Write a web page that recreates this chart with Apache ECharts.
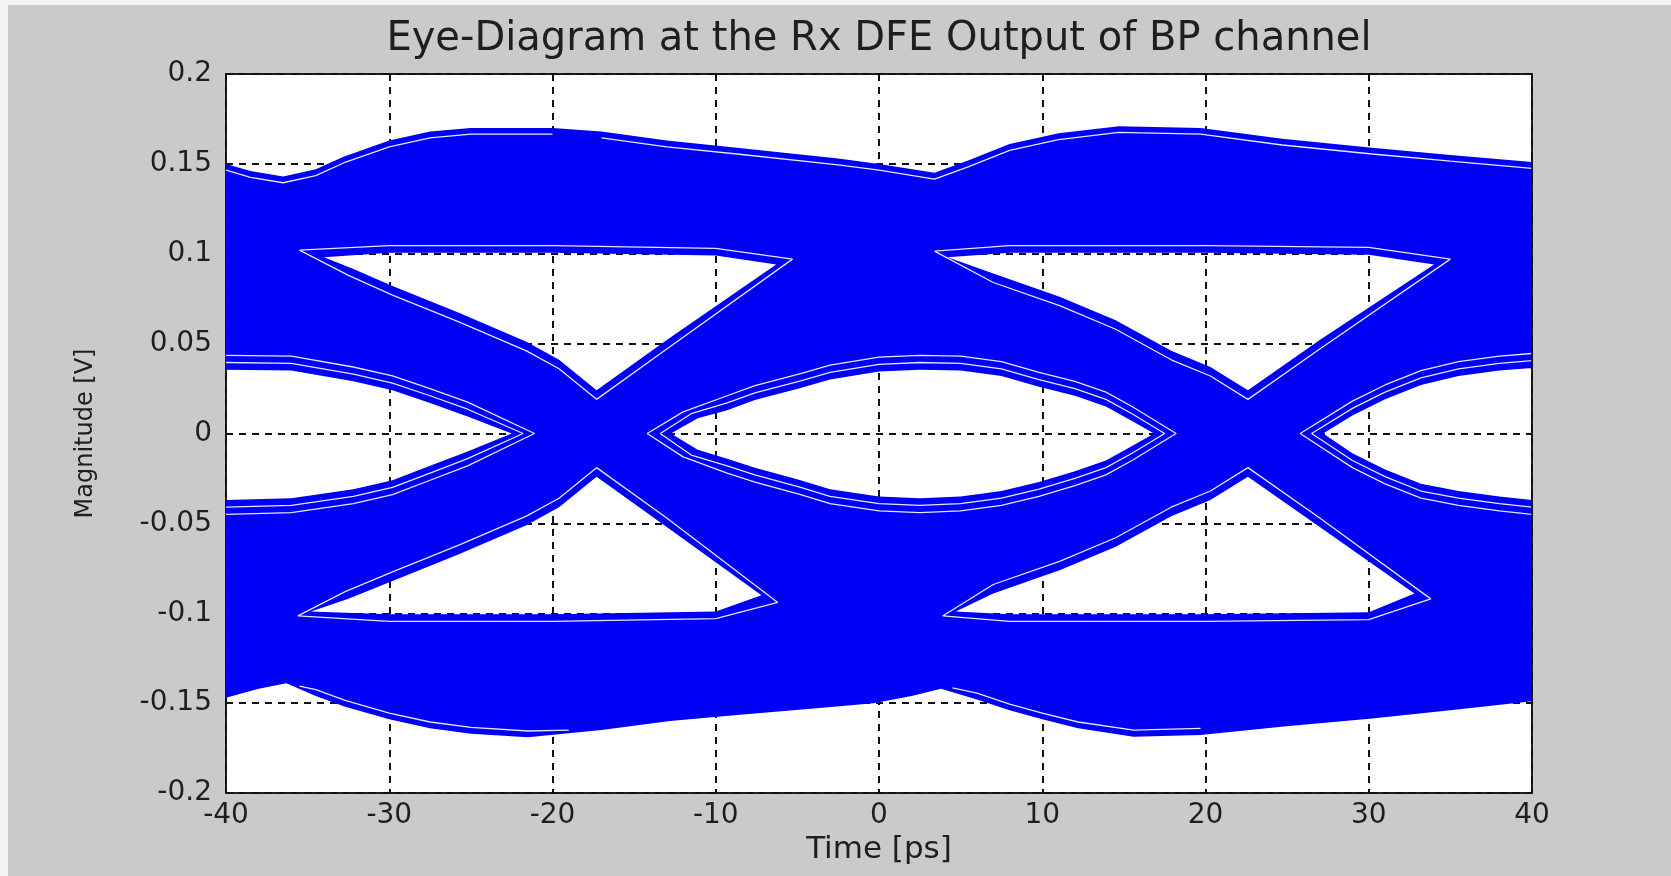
<!DOCTYPE html>
<html>
<head>
<meta charset="utf-8">
<title>Eye-Diagram</title>
<script src="https://cdn.jsdelivr.net/npm/echarts@6/dist/echarts.min.js"></script>
<style>
    html, body { margin: 0; padding: 0; background: #cacaca; }
    #main { width: 1671px; height: 876px; }
</style>
</head>
<body>
<div id="main"></div>
<script>
// axis ranges and ticks
const timeTicks = [-40, -30, -20, -10, 0, 10, 20, 30, 40];
const magTicks = [-0.2, -0.15, -0.1, -0.05, 0, 0.05, 0.1, 0.15, 0.2];

// outer envelope of all traces [t(ps), v(V)]
const envelopeTop = [
    [-40, 0.150], [-38.5, 0.146], [-36.5, 0.143], [-34.5, 0.147], [-32.8, 0.154],
    [-30, 0.163], [-27.5, 0.168], [-25, 0.170], [-20, 0.170], [-17, 0.168],
    [-13, 0.163], [-8.7, 0.159], [-2.5, 0.153], [0, 0.150], [3.4, 0.145],
    [5.5, 0.152], [8, 0.161], [11, 0.167], [14.7, 0.171], [19.7, 0.170],
    [24.7, 0.164], [30.2, 0.159], [35, 0.155], [40, 0.151]
];
const envelopeBottom = [
    [-40, -0.147], [-38, -0.142], [-36.3, -0.139], [-34.5, -0.146], [-32.7, -0.152],
    [-30, -0.159], [-27.5, -0.164], [-25, -0.167], [-21.5, -0.169], [-17, -0.165],
    [-12.8, -0.160], [-8.7, -0.1566], [-4, -0.153], [-0.35, -0.150], [2, -0.146],
    [3.8, -0.142], [6, -0.148], [8, -0.154], [10, -0.159], [12.2, -0.164],
    [15.6, -0.1687], [19.7, -0.1677], [24.8, -0.163], [30.2, -0.1585], [35, -0.154],
    [40, -0.149]
];

// eye openings (no trace passes inside)
const upperEye1 = [
    [-34, 0.098], [-30, 0.1005], [-20, 0.1005], [-10, 0.099], [-6.3, 0.094],
    [-13, 0.052], [-17.3, 0.024], [-19.6, 0.041], [-21.6, 0.051], [-25.7, 0.067],
    [-29.8, 0.082], [-32.3, 0.092]
];
const upperEye2 = [
    [4.2, 0.098], [8, 0.1005], [20, 0.1005], [30, 0.0995], [34.0, 0.094],
    [27, 0.052], [22.6, 0.024], [20.3, 0.037], [17.9, 0.046], [14.5, 0.063],
    [11.1, 0.076], [7, 0.089]
];
const lowerEye1 = [
    [-34.8, -0.099], [-30, -0.1005], [-20, -0.1005], [-10, -0.099], [-7.2, -0.090],
    [-13, -0.052], [-17.3, -0.024], [-19.6, -0.041], [-21.6, -0.051], [-25.7, -0.067],
    [-29.8, -0.082], [-32.5, -0.092]
];
const lowerEye2 = [
    [4.7, -0.099], [8, -0.1005], [20, -0.1005], [30, -0.0995], [32.8, -0.089],
    [27, -0.052], [22.6, -0.024], [20.3, -0.037], [17.9, -0.046], [14.5, -0.063],
    [11.1, -0.076], [7, -0.089]
];
const lensLeft = [
    [-40, 0.0355], [-36, 0.035], [-32.2, 0.029], [-29.8, 0.024], [-27.5, 0.017],
    [-25.2, 0.0095], [-22.5, 0], [-25.2, -0.010], [-27.5, -0.018], [-29.8, -0.026],
    [-32.2, -0.031], [-36, -0.036], [-40, -0.037]
];
const lensMid = [
    [-12.75, 0], [-11.1, 0.0085], [-9.3, 0.013], [-7.6, 0.0186], [-4.8, 0.0253],
    [-3, 0.030], [0, 0.0345], [2.5, 0.0355], [5, 0.035], [7.5, 0.032],
    [9.8, 0.026], [12, 0.021], [13.9, 0.015], [15.5, 0.007], [16.85, 0],
    [15.5, -0.007], [13.9, -0.015], [12, -0.021], [9.8, -0.027], [7.5, -0.032],
    [5, -0.035], [2.5, -0.036], [0, -0.035], [-3, -0.031], [-4.8, -0.026],
    [-7.6, -0.019], [-9.3, -0.014], [-11.1, -0.009]
];
const lensRight = [
    [27.2, 0], [29, 0.010], [31, 0.019], [33.2, 0.027], [35.5, 0.032],
    [38, 0.035], [40, 0.0365], [40, -0.037], [38, -0.035], [35.5, -0.032],
    [33.2, -0.028], [31, -0.020], [29, -0.011]
];

// thin gaps between trace bundles, seen as white lines inside the blue
const gapTopA = [
    [-40, 0.1465], [-38.5, 0.1425], [-36.5, 0.1395], [-34.5, 0.1435], [-32.8, 0.1505],
    [-30, 0.1595], [-27.5, 0.1645], [-25, 0.1665], [-20, 0.1665]
];
const gapTopB = [
    [-17, 0.1645], [-13, 0.1595], [-8.7, 0.1555], [-2.5, 0.1495], [0, 0.1465],
    [3.4, 0.1415], [5.5, 0.1485], [8, 0.1575], [11, 0.1635], [14.7, 0.1675],
    [19.7, 0.1665], [24.7, 0.1605], [30.2, 0.1555], [35, 0.1515], [40, 0.1475]
];
const gapBottomA = [
    [-35.5, -0.1405], [-34.5, -0.1425], [-32.7, -0.1485], [-30, -0.1555],
    [-27.5, -0.1605], [-25, -0.1635], [-21.5, -0.1655], [-19, -0.165]
];
const gapBottomB = [
    [4.5, -0.1415], [6, -0.1445], [8, -0.1505], [10, -0.1555], [12.2, -0.1605],
    [15.6, -0.165], [19.7, -0.164]
];
const gapLensMid1 = [
    [-13.4, 0], [-11.5, 0.011], [-9.3, 0.017], [-7.6, 0.0226], [-4.8, 0.0293],
    [-3, 0.034], [0, 0.0385], [2.5, 0.0395], [5, 0.039], [7.5, 0.036],
    [9.8, 0.030], [12, 0.025], [13.9, 0.019], [15.5, 0.011], [17.5, 0],
    [15.5, -0.011], [13.9, -0.019], [12, -0.025], [9.8, -0.031], [7.5, -0.036],
    [5, -0.039], [2.5, -0.040], [0, -0.039], [-3, -0.035], [-4.8, -0.030],
    [-7.6, -0.023], [-9.3, -0.018], [-11.5, -0.012], [-13.4, 0]
];
const gapLensMid2 = [
    [-14.2, 0], [-12, 0.012], [-9.3, 0.021], [-7.6, 0.0266], [-4.8, 0.0333],
    [-3, 0.038], [0, 0.0425], [2.5, 0.0435], [5, 0.043], [7.5, 0.040],
    [9.8, 0.034], [12, 0.029], [13.9, 0.023], [15.5, 0.015], [18.2, 0],
    [15.5, -0.015], [13.9, -0.023], [12, -0.029], [9.8, -0.035], [7.5, -0.040],
    [5, -0.043], [2.5, -0.044], [0, -0.043], [-3, -0.039], [-4.8, -0.034],
    [-7.6, -0.027], [-9.3, -0.022], [-12, -0.013], [-14.2, 0]
];
const gapLensLeft1 = [
    [-40, 0.0395], [-36, 0.039], [-32.2, 0.033], [-29.8, 0.028], [-27.5, 0.021],
    [-25.2, 0.0135], [-21.8, 0], [-25.2, -0.014], [-27.5, -0.022], [-29.8, -0.030],
    [-32.2, -0.035], [-36, -0.040], [-40, -0.041]
];
const gapLensLeft2 = [
    [-40, 0.0435], [-36, 0.043], [-32.2, 0.037], [-29.8, 0.032], [-27.5, 0.025],
    [-25.2, 0.0175], [-21.1, 0], [-25.2, -0.018], [-27.5, -0.026], [-29.8, -0.034],
    [-32.2, -0.039], [-36, -0.044], [-40, -0.045]
];
const gapLensRight1 = [
    [40, 0.0405], [38, 0.039], [35.5, 0.036], [33.2, 0.031], [31, 0.023],
    [29, 0.014], [26.5, 0], [29, -0.015], [31, -0.024], [33.2, -0.032],
    [35.5, -0.036], [38, -0.039], [40, -0.041]
];
const gapLensRight2 = [
    [40, 0.0445], [38, 0.043], [35.5, 0.040], [33.2, 0.035], [31, 0.027],
    [29, 0.018], [25.8, 0], [29, -0.019], [31, -0.028], [33.2, -0.036],
    [35.5, -0.040], [38, -0.043], [40, -0.045]
];
const gapUpper1 = [
    [-35.5, 0.102], [-30, 0.1045], [-20, 0.1045], [-10, 0.103], [-5.3, 0.097],
    [-13, 0.047], [-17.3, 0.019], [-19.6, 0.036], [-21.6, 0.046], [-25.7, 0.062],
    [-29.8, 0.077], [-32.5, 0.088], [-35.5, 0.102]
];
const gapUpper2 = [
    [3.4, 0.1015], [8, 0.1045], [20, 0.1045], [30, 0.1035], [35.0, 0.097],
    [27, 0.047], [22.6, 0.019], [20.3, 0.032], [17.9, 0.041], [14.5, 0.058],
    [11.1, 0.071], [7, 0.084], [3.4, 0.1015]
];
const gapLower1 = [
    [-35.6, -0.1015], [-30, -0.1045], [-20, -0.1045], [-10, -0.103], [-6.2, -0.094],
    [-13, -0.047], [-17.3, -0.019], [-19.6, -0.036], [-21.6, -0.046], [-25.7, -0.062],
    [-29.8, -0.077], [-32.7, -0.088], [-35.6, -0.1015]
];
const gapLower2 = [
    [3.9, -0.1015], [8, -0.1045], [20, -0.1045], [30, -0.1035], [33.8, -0.092],
    [27, -0.047], [22.6, -0.019], [20.3, -0.032], [17.9, -0.041], [14.5, -0.058],
    [11.1, -0.071], [7, -0.084], [3.9, -0.1015]
];

const eyeHoles = [upperEye1, upperEye2, lowerEye1, lowerEye2, lensLeft, lensMid, lensRight];
const traceGaps = [
    gapTopA, gapTopB, gapBottomA, gapBottomB,
    gapLensMid1, gapLensMid2, gapLensLeft1, gapLensLeft2, gapLensRight1, gapLensRight2,
    gapUpper1, gapUpper2, gapLower1, gapLower2
];

const traceBlue = '#0000f5';
const fontName = 'DejaVu Sans';

function ringArea(pts) {
    let a = 0;
    for (let i = 0; i < pts.length; i++) {
        const p = pts[i], q = pts[(i + 1) % pts.length];
        a += p[0] * q[1] - q[0] * p[1];
    }
    return a / 2;
}

// one closed sub path, direction forced so holes cut out of the band
function ringPath(points, api, wantPositive) {
    let pts = points.map(p => api.coord(p));
    if ((ringArea(pts) > 0) !== wantPositive) pts = pts.slice().reverse();
    return 'M' + pts.map(p => p[0].toFixed(2) + ' ' + p[1].toFixed(2)).join('L') + 'Z';
}

function renderEye(params, api) {
    const outer = envelopeTop.concat(envelopeBottom.slice().reverse());
    let d = ringPath(outer, api, true);
    eyeHoles.forEach(h => { d += ringPath(h, api, false); });
    return {
        type: 'path',
        shape: { pathData: d },
        style: { fill: traceBlue, stroke: null }
    };
}

const gapSeries = traceGaps.map(g => ({
    type: 'line',
    data: g,
    showSymbol: false,
    symbol: 'none',
    silent: true,
    z: 3,
    lineStyle: { color: '#ffffff', width: 1.3, opacity: 0.9 }
}));

const chart = echarts.init(document.getElementById('main'));
chart.setOption({
    backgroundColor: '#cacaca',
    animation: false,
    title: {
        text: 'Eye-Diagram at the Rx DFE Output of BP channel',
        left: 874,
        top: 15,
        textAlign: 'center',
        textStyle: { fontFamily: fontName, fontSize: 40, fontWeight: 'normal', color: '#1e1e1e' }
    },
    graphic: [
        { type: 'rect', shape: { x: 0, y: 0, width: 1671, height: 5 }, style: { fill: '#f4f4f4' }, silent: true },
        { type: 'rect', shape: { x: 0, y: 0, width: 8, height: 876 }, style: { fill: '#f4f4f4' }, silent: true }
    ],
    grid: {
        left: 226, right: 139, top: 74, bottom: 83,
        show: true,
        backgroundColor: '#ffffff',
        borderColor: '#111',
        borderWidth: 1.5
    },
    xAxis: [{
        type: 'value',
        min: timeTicks[0],
        max: timeTicks[timeTicks.length - 1],
        interval: 10,
        name: 'Time [ps]',
        nameLocation: 'middle',
        nameGap: 40,
        nameTextStyle: { fontFamily: fontName, fontSize: 31, color: '#1e1e1e' },
        axisLine: { show: true, onZero: false, lineStyle: { color: '#111', width: 1.5 } },
        axisTick: { show: false },
        axisLabel: { fontFamily: fontName, fontSize: 28, color: '#1e1e1e', margin: 9 },
        splitLine: { show: true, lineStyle: { color: '#111', width: 2, type: [7, 6] } }
    }, {
        type: 'value', position: 'top', min: -40, max: 40, z: 5,
        axisLine: { show: true, onZero: false, lineStyle: { color: '#111', width: 1.5 } },
        axisTick: { show: false }, axisLabel: { show: false }, splitLine: { show: false }
    }],
    yAxis: [{
        type: 'value',
        min: magTicks[0],
        max: magTicks[magTicks.length - 1],
        interval: 0.05,
        name: 'Magnitude [V]',
        nameLocation: 'middle',
        nameGap: 128,
        nameTextStyle: { fontFamily: fontName, fontSize: 24, color: '#1e1e1e' },
        axisLine: { show: true, onZero: false, lineStyle: { color: '#111', width: 1.5 } },
        axisTick: { show: false },
        axisLabel: {
            fontFamily: fontName, fontSize: 28, color: '#1e1e1e', margin: 14,
            formatter: v => String(Math.round(v * 100) / 100)
        },
        splitLine: { show: true, lineStyle: { color: '#111', width: 2, type: [7, 6] } }
    }, {
        type: 'value', position: 'right', min: -0.2, max: 0.2, z: 5,
        axisLine: { show: true, onZero: false, lineStyle: { color: '#111', width: 1.5 } },
        axisTick: { show: false }, axisLabel: { show: false }, splitLine: { show: false }
    }],
    series: [{
        type: 'custom',
        name: 'eye',
        coordinateSystem: 'cartesian2d',
        xAxisIndex: 0,
        yAxisIndex: 0,
        silent: true,
        z: 2,
        data: [[0, 0]],
        renderItem: renderEye
    }].concat(gapSeries)
});
</script>
</body>
</html>
